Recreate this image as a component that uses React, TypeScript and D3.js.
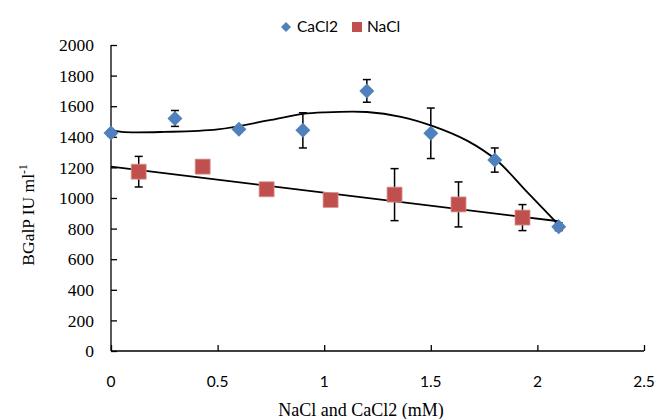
import React, { useRef, useEffect } from 'react';
import * as d3 from 'd3';

// CaCl2 measurements (diamonds)
const cacl2X = [0, 0.3, 0.6, 0.9, 1.2, 1.5, 1.8, 2.1];
const cacl2Y = [1425, 1520, 1450, 1442, 1700, 1423, 1248, 812];
const cacl2Err = [20, 52, 15, 115, 74, 165, 79, 25];

// NaCl measurements (squares)
const naclX = [0.13, 0.43, 0.73, 1.03, 1.33, 1.63, 1.93];
const naclY = [1172, 1205, 1057, 987, 1022, 958, 872];
const naclErr = [100, 40, 30, 30, 170, 147, 85];

// trend lines
const cacl2TrendX = [0, 0.05, 0.25, 0.5, 0.75, 0.9, 1.0, 1.2, 1.36, 1.51, 1.67, 1.81, 1.95, 2.11];
const cacl2TrendY = [1445, 1432, 1432, 1448, 1510, 1550, 1560, 1562, 1531, 1470, 1375, 1245, 1041, 810];
const naclTrendX = [0, 2.1];
const naclTrendY = [1205, 848];

const xTicks = [0, 0.5, 1, 1.5, 2, 2.5];
const yTicks = [0, 200, 400, 600, 800, 1000, 1200, 1400, 1600, 1800, 2000];

const BLUE = '#4f81bd';
const RED = '#c0504d';

const App = () => {
  const svgRef = useRef<SVGSVGElement>(null);

  useEffect(() => {
    const svg = d3.select(svgRef.current);
    svg.selectAll('*').remove();

    const width = 655;
    const height = 419;
    svg.attr('width', width).attr('height', height);

    const x = d3.scaleLinear().domain([0, 2.5]).range([111, 644]);
    const y = d3.scaleLinear().domain([0, 2000]).range([351, 45]);

    // axes
    const xAxis = svg.append('g').attr('transform', `translate(0, ${y(0)})`)
      .call(d3.axisTop(x).tickValues(xTicks).tickSize(6).tickFormat(() => ''));
    xAxis.selectAll('line').attr('stroke', '#000').attr('stroke-width', 1.3);
    xAxis.select('.domain').attr('d', `M${x(0)},0H${x(2.5)}`).attr('stroke', '#000').attr('stroke-width', 1.3);

    const yAxis = svg.append('g').attr('transform', `translate(${x(0)}, 0)`)
      .call(d3.axisRight(y).tickValues(yTicks).tickSize(6).tickFormat(() => ''));
    yAxis.selectAll('line').attr('stroke', '#000').attr('stroke-width', 1.3);
    yAxis.select('.domain').attr('d', `M0,${y(2000)}V${y(0)}`).attr('stroke', '#000').attr('stroke-width', 1.3);

    // tick labels
    svg.append('g').selectAll('text')
      .data(yTicks)
      .join('text')
      .attr('x', 94)
      .attr('y', d => y(d))
      .attr('dy', '0.35em')
      .attr('text-anchor', 'end')
      .attr('font-family', '"Liberation Serif", serif')
      .attr('font-size', 17.5)
      .text(d => d);

    svg.append('g').selectAll('text')
      .data(xTicks)
      .join('text')
      .attr('x', d => x(d))
      .attr('y', 387)
      .attr('text-anchor', 'middle')
      .attr('font-family', 'Lato, sans-serif')
      .attr('font-size', 15.5)
      .text(d => d);

    // axis titles
    svg.append('text')
      .attr('x', 361)
      .attr('y', 416)
      .attr('text-anchor', 'middle')
      .attr('font-family', '"Liberation Serif", serif')
      .attr('font-size', 18)
      .text('NaCl and CaCl2 (mM)');

    const yTitle = svg.append('text')
      .attr('transform', 'translate(34, 215) rotate(-90)')
      .attr('text-anchor', 'middle')
      .attr('font-family', '"Liberation Serif", serif')
      .attr('font-size', 17.5);
    yTitle.append('tspan').text('BGalP IU ml');
    yTitle.append('tspan').attr('dy', -7).attr('font-size', 11.5).text('-1');

    // trend lines
    const line = d3.line<[number, number]>()
      .x(d => x(d[0]))
      .y(d => y(d[1]));

    svg.append('path')
      .datum(d3.zip(naclTrendX, naclTrendY) as [number, number][])
      .attr('d', line)
      .attr('fill', 'none')
      .attr('stroke', '#000')
      .attr('stroke-width', 1.8);

    svg.append('path')
      .datum(d3.zip(cacl2TrendX, cacl2TrendY) as [number, number][])
      .attr('d', line.curve(d3.curveCatmullRom))
      .attr('fill', 'none')
      .attr('stroke', '#000')
      .attr('stroke-width', 1.8);

    // error bars
    const drawErrors = (xs: number[], ys: number[], errs: number[]) => {
      const g = svg.append('g').attr('stroke', '#000').attr('stroke-width', 1.5);
      xs.forEach((xv, i) => {
        const cx = x(xv);
        const top = y(ys[i] + errs[i]);
        const bot = y(ys[i] - errs[i]);
        g.append('line').attr('x1', cx).attr('x2', cx).attr('y1', top).attr('y2', bot);
        g.append('line').attr('x1', cx - 4).attr('x2', cx + 4).attr('y1', top).attr('y2', top);
        g.append('line').attr('x1', cx - 4).attr('x2', cx + 4).attr('y1', bot).attr('y2', bot);
      });
    };
    drawErrors(cacl2X, cacl2Y, cacl2Err);
    drawErrors(naclX, naclY, naclErr);

    // markers
    svg.append('g').selectAll('path')
      .data(d3.zip(naclX, naclY))
      .join('path')
      .attr('transform', d => `translate(${x(d[0])}, ${y(d[1])})`)
      .attr('d', 'M-7.5,-7.5H7.5V7.5H-7.5Z')
      .attr('fill', RED)
      .attr('stroke', '#d99694')
      .attr('stroke-width', 0.8);

    svg.append('g').selectAll('path')
      .data(d3.zip(cacl2X, cacl2Y))
      .join('path')
      .attr('transform', d => `translate(${x(d[0])}, ${y(d[1])})`)
      .attr('d', 'M0,-7.5L7.5,0L0,7.5L-7.5,0Z')
      .attr('fill', BLUE);

    // legend
    const legend = svg.append('g').attr('font-family', 'Lato, sans-serif').attr('font-size', 15.5);
    legend.append('path')
      .attr('transform', 'translate(286, 27)')
      .attr('d', 'M0,-5L5,0L0,5L-5,0Z')
      .attr('fill', BLUE);
    legend.append('text').attr('x', 297).attr('y', 32).text('CaCl2');
    legend.append('rect').attr('x', 352).attr('y', 22).attr('width', 10).attr('height', 10).attr('fill', RED);
    legend.append('text').attr('x', 367).attr('y', 32).text('NaCl');
  }, []);

  return (
    <div style={{ position: 'absolute', left: 0, top: 0, background: '#fff' }}>
      <svg ref={svgRef}></svg>
    </div>
  );
};

export default App;
